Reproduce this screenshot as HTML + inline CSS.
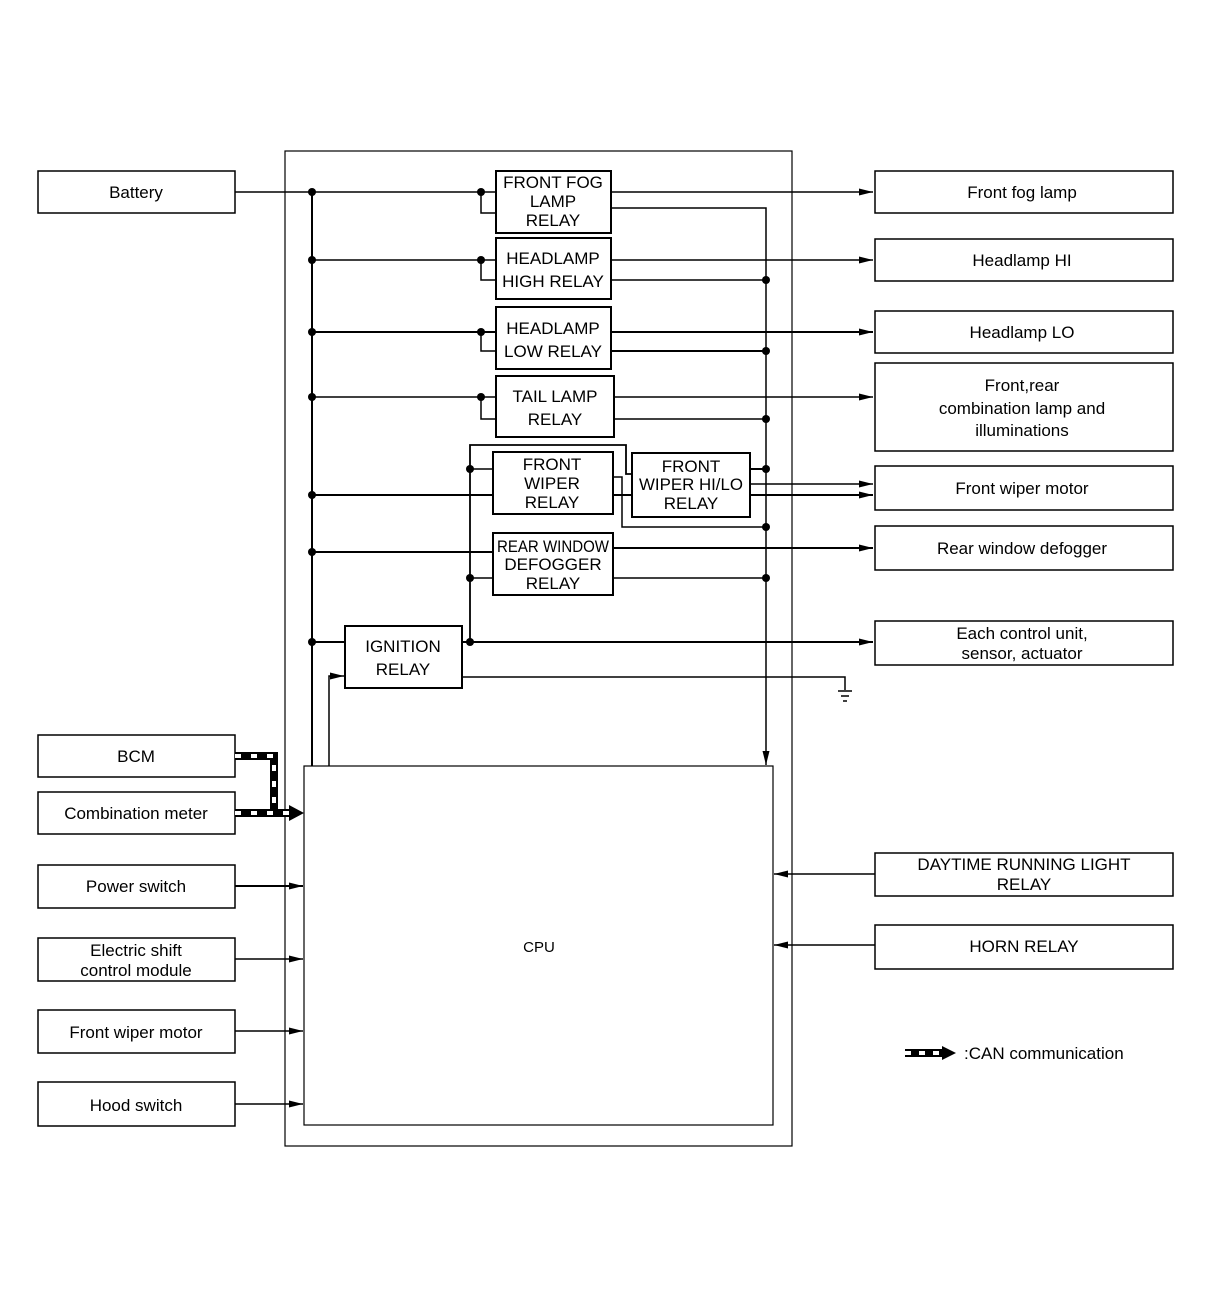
<!DOCTYPE html>
<html><head><meta charset="utf-8"><style>
html,body{margin:0;padding:0;background:#fff;}
svg{display:block;font-family:"Liberation Sans",sans-serif;}
text{font-size:17px;fill:#000;text-anchor:middle;}
</style></head><body>
<svg width="1216" height="1298" viewBox="0 0 1216 1298" xmlns="http://www.w3.org/2000/svg">
<defs>
<marker id="a" markerWidth="14" markerHeight="10" refX="14" refY="5" orient="auto" markerUnits="userSpaceOnUse"><path d="M0,1.5 L14,5 L0,8.5 Z" fill="#000"/></marker>
</defs>
<g fill="none" stroke="#000" stroke-width="1.5">
<rect x="285" y="151" width="507" height="995" stroke-width="1.2"/>
<rect x="304" y="766" width="469" height="359" stroke-width="1.2"/>
<rect x="38" y="171" width="197" height="42"/>
<rect x="38" y="735" width="197" height="42"/>
<rect x="38" y="792" width="197" height="42"/>
<rect x="38" y="865" width="197" height="43"/>
<rect x="38" y="938" width="197" height="43"/>
<rect x="38" y="1010" width="197" height="43"/>
<rect x="38" y="1082" width="197" height="44"/>
<rect x="875" y="171" width="298" height="42"/>
<rect x="875" y="239" width="298" height="42"/>
<rect x="875" y="311" width="298" height="42"/>
<rect x="875" y="363" width="298" height="88"/>
<rect x="875" y="466" width="298" height="44"/>
<rect x="875" y="526" width="298" height="44"/>
<rect x="875" y="621" width="298" height="44"/>
<rect x="875" y="853" width="298" height="43"/>
<rect x="875" y="925" width="298" height="44"/>
<rect x="496" y="171" width="115" height="62" stroke-width="2"/>
<rect x="496" y="238" width="115" height="61" stroke-width="2"/>
<rect x="496" y="307" width="115" height="62" stroke-width="2"/>
<rect x="496" y="376" width="118" height="61" stroke-width="2"/>
<rect x="493" y="452" width="120" height="62" stroke-width="2"/>
<rect x="632" y="453" width="118" height="64" stroke-width="2"/>
<rect x="493" y="533" width="120" height="62" stroke-width="2"/>
<rect x="345" y="626" width="117" height="62" stroke-width="2"/>
<path d="M312 192 V766" stroke-width="2"/>
<path d="M235 192 H496 M312 260 H496 M312 397 H496"/>
<path d="M312 332 H496 M312 495 H493 M312 552 H493 M312 642 H345" stroke-width="2"/>
<path d="M481 192 V213 H496 M481 260 V280 H496 M481 332 V351 H496 M481 397 V419 H496"/>
<path d="M611 192 H873" marker-end="url(#a)"/>
<path d="M611 260 H873" marker-end="url(#a)"/>
<path d="M611 332 H873" stroke-width="2" marker-end="url(#a)"/>
<path d="M614 397 H873" marker-end="url(#a)"/>
<path d="M750 484 H873" marker-end="url(#a)"/>
<path d="M750 495 H873" stroke-width="2" marker-end="url(#a)"/>
<path d="M613 548 H873" stroke-width="2" marker-end="url(#a)"/>
<path d="M462 642 H873" stroke-width="2" marker-end="url(#a)"/>
<path d="M611 208 H766 V765" marker-end="url(#a)"/>
<path d="M611 280 H766 M614 419 H766 M613 578 H766"/>
<path d="M611 351 H766" stroke-width="2"/>
<path d="M750 469 H766" stroke-width="2"/>
<path d="M613 477 H622 V527 H766"/>
<path d="M613 495 H632" stroke-width="2"/>
<path d="M470 642 V445 H626 V474 H632" stroke-width="1.8"/>
<path d="M470 469 H493 M470 578 H493"/>
<path d="M462 677 H845 V690"/>
<path d="M838 691 H852 M841 696 H849 M843 701 H847"/>
<path d="M329 766 V676 H344" marker-end="url(#a)"/>
<path d="M235 886 H303" stroke-width="2" marker-end="url(#a)"/>
<path d="M235 959 H303" marker-end="url(#a)"/>
<path d="M235 1031 H303" marker-end="url(#a)"/>
<path d="M235 1104 H303" marker-end="url(#a)"/>
<path d="M875 874 H774" marker-end="url(#a)"/>
<path d="M875 945 H774" marker-end="url(#a)"/>
<path d="M235 756 H274 V813 M235 813 H292" stroke-width="8"/>
<path d="M235 756 H274 V813 M235 813 H292" stroke="#fff" stroke-width="4" stroke-dasharray="6 10"/>
<path d="M905 1053 H944" stroke-width="8"/>
<path d="M905 1053 H944" stroke="#fff" stroke-width="4" stroke-dasharray="6 8"/>
</g>
<path d="M289 805 L304 813 L289 821 Z"/>
<path d="M942 1046 L956 1053 L942 1060 Z"/>
<g fill="#000">
<circle cx="312" cy="192" r="4"/><circle cx="312" cy="260" r="4"/><circle cx="312" cy="332" r="4"/><circle cx="312" cy="397" r="4"/><circle cx="312" cy="495" r="4"/><circle cx="312" cy="552" r="4"/><circle cx="312" cy="642" r="4"/>
<circle cx="481" cy="192" r="4"/><circle cx="481" cy="260" r="4"/><circle cx="481" cy="332" r="4"/><circle cx="481" cy="397" r="4"/>
<circle cx="766" cy="280" r="4"/><circle cx="766" cy="351" r="4"/><circle cx="766" cy="419" r="4"/><circle cx="766" cy="469" r="4"/><circle cx="766" cy="527" r="4"/><circle cx="766" cy="578" r="4"/>
<circle cx="470" cy="469" r="4"/><circle cx="470" cy="578" r="4"/><circle cx="470" cy="642" r="4"/>
</g>
<g>
<text x="136" y="198">Battery</text>
<text x="136" y="762">BCM</text>
<text x="136" y="819">Combination meter</text>
<text x="136" y="892">Power switch</text>
<text x="136" y="956">Electric shift</text>
<text x="136" y="976">control module</text>
<text x="136" y="1038">Front wiper motor</text>
<text x="136" y="1111">Hood switch</text>
<text x="1022" y="198">Front fog lamp</text>
<text x="1022" y="266">Headlamp HI</text>
<text x="1022" y="338">Headlamp LO</text>
<text x="1022" y="391">Front,rear</text>
<text x="1022" y="414">combination lamp and</text>
<text x="1022" y="436">illuminations</text>
<text x="1022" y="494">Front wiper motor</text>
<text x="1022" y="554">Rear window defogger</text>
<text x="1022" y="639">Each control unit,</text>
<text x="1022" y="659">sensor, actuator</text>
<text x="1024" y="870">DAYTIME RUNNING LIGHT</text>
<text x="1024" y="890">RELAY</text>
<text x="1024" y="952">HORN RELAY</text>
<text x="964" y="1059" style="text-anchor:start">:CAN communication</text>
<text x="539" y="952" style="font-size:15px">CPU</text>
<text x="553" y="188">FRONT FOG</text>
<text x="553" y="207">LAMP</text>
<text x="553" y="226">RELAY</text>
<text x="553" y="264">HEADLAMP</text>
<text x="553" y="287">HIGH RELAY</text>
<text x="553" y="334">HEADLAMP</text>
<text x="553" y="357">LOW RELAY</text>
<text x="555" y="402">TAIL LAMP</text>
<text x="555" y="425">RELAY</text>
<text x="552" y="470">FRONT</text>
<text x="552" y="489">WIPER</text>
<text x="552" y="508">RELAY</text>
<text x="691" y="472">FRONT</text>
<text x="691" y="490" textLength="104" lengthAdjust="spacingAndGlyphs">WIPER HI/LO</text>
<text x="691" y="509">RELAY</text>
<text x="553" y="552" textLength="112" lengthAdjust="spacingAndGlyphs">REAR WINDOW</text>
<text x="553" y="570">DEFOGGER</text>
<text x="553" y="589">RELAY</text>
<text x="403" y="652">IGNITION</text>
<text x="403" y="675">RELAY</text>
</g>
</svg>
</body></html>
